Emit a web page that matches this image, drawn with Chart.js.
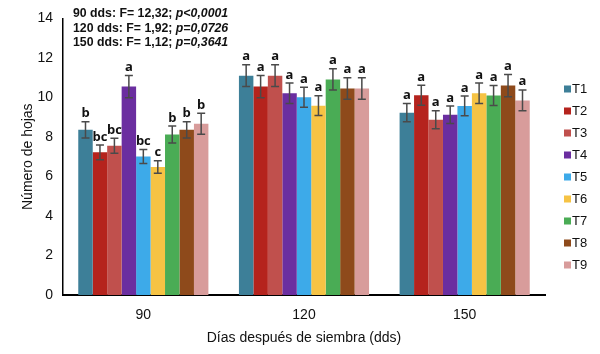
<!DOCTYPE html>
<html>
<head>
<meta charset="utf-8">
<script src="https://cdn.jsdelivr.net/npm/chart.js@4.4.1/dist/chart.umd.min.js"></script>
<style>
html,body{margin:0;padding:0;background:#fff;}
#wrap{width:600px;height:354px;position:relative;}
</style>
</head>
<body>
<div id="wrap"><canvas id="c" width="600" height="354"></canvas></div>
<script>
const days = ['90', '120', '150'];
const treatments = ['T1', 'T2', 'T3', 'T4', 'T5', 'T6', 'T7', 'T8', 'T9'];
const colors = ['#3d7f98', '#b5231d', '#c0504d', '#6b2ea0', '#3daae9', '#f6c344', '#4aac55', '#8e4a1b', '#d89c9b'];

const mean90  = [8.36, 7.22, 7.56, 10.55, 7.01, 6.48, 8.12, 8.36, 8.67];
const err90   = [0.41, 0.37, 0.38, 0.56, 0.36, 0.32, 0.43, 0.41, 0.53];
const mean120 = [11.10, 10.55, 11.10, 10.21, 10.01, 9.58, 10.91, 10.45, 10.45];
const err120  = [0.55, 0.56, 0.55, 0.52, 0.51, 0.50, 0.54, 0.54, 0.54];
const mean150 = [9.23, 10.11, 8.87, 9.12, 9.57, 10.21, 10.10, 10.60, 9.85];
const err150  = [0.46, 0.51, 0.46, 0.44, 0.50, 0.52, 0.51, 0.56, 0.53];

const letters90  = ['b', 'bc', 'bc', 'a', 'bc', 'c', 'b', 'b', 'b'];
const letters120 = ['a', 'a', 'a', 'a', 'a', 'a', 'a', 'a', 'a'];
const letters150 = ['a', 'a', 'a', 'a', 'a', 'a', 'a', 'a', 'a'];

const statLines = [
  ['90 dds: F= 12,32; ', 'p<0,0001'],
  ['120 dds: F= 1,92; ', 'p=0,0726'],
  ['150 dds: F= 1,12; ', 'p=0,3641']
];

const yTicks = [0, 2, 4, 6, 8, 10, 12, 14];

const means = [mean90, mean120, mean150];
const errs = [err90, err120, err150];
const letters = [letters90, letters120, letters150];

const FAM = '"Liberation Sans", Arial, sans-serif';

const datasets = treatments.map((t, i) => ({
  label: t,
  data: means.map(m => m[i]),
  backgroundColor: colors[i],
  borderWidth: 0,
  barPercentage: 1.0,
  categoryPercentage: 0.81
}));

const errPlugin = {
  id: 'errs',
  afterDatasetsDraw(chart) {
    const ctx = chart.ctx;
    const ys = chart.scales.y;
    ctx.save();
    chart.data.datasets.forEach((ds, i) => {
      const meta = chart.getDatasetMeta(i);
      meta.data.forEach((el, j) => {
        const m = means[j][i], e = errs[j][i];
        const x = el.x;
        const yt = ys.getPixelForValue(m + e);
        const yb = ys.getPixelForValue(m - e);
        ctx.strokeStyle = '#4a4a4a';
        ctx.lineWidth = 1.5;
        ctx.beginPath();
        ctx.moveTo(x, yt); ctx.lineTo(x, yb);
        ctx.moveTo(x - 4, yt); ctx.lineTo(x + 4, yt);
        ctx.moveTo(x - 4, yb); ctx.lineTo(x + 4, yb);
        ctx.stroke();
        ctx.fillStyle = '#111';
        ctx.font = 'bold 13px "Open Sans", ' + FAM;
        ctx.textAlign = 'center';
        ctx.textBaseline = 'alphabetic';
        ctx.fillText(letters[j][i], x, yt - 4.5);
      });
    });
    ctx.restore();
  },
  afterDraw(chart) {
    const ctx = chart.ctx;
    ctx.save();
    ctx.fillStyle = '#111';
    ctx.textBaseline = 'middle';
    ctx.textAlign = 'left';
    statLines.forEach((ln, k) => {
      const y = 14 + k * 14.5;
      ctx.font = 'bold 12.3px ' + FAM;
      ctx.fillText(ln[0], 73, y);
      const w = ctx.measureText(ln[0]).width;
      ctx.font = 'italic bold 12.3px ' + FAM;
      ctx.fillText(ln[1], 73 + w, y);
    });
    ctx.font = '13px ' + FAM;
    treatments.forEach((t, i) => {
      const y = 89 + i * 22;
      ctx.fillStyle = colors[i];
      ctx.fillRect(564, y - 3.5, 7, 7);
      ctx.fillStyle = '#111';
      ctx.fillText(t, 572, y + 0.5);
    });
    ctx.restore();
  }
};

new Chart(document.getElementById('c'), {
  type: 'bar',
  data: { labels: days, datasets },
  options: {
    responsive: false,
    animation: false,
    devicePixelRatio: 1,
    layout: { padding: { top: 15, right: 55, left: 0, bottom: 0 } },
    plugins: { legend: { display: false }, tooltip: { enabled: false } },
    scales: {
      x: {
        grid: { display: false, drawTicks: false, tickLength: 0 },
        border: { display: true, color: '#000', width: 2 },
        ticks: { font: { size: 14, family: FAM }, color: '#111', padding: 12 },
        title: { display: true, text: 'Días después de siembra (dds)', color: '#111',
                 font: { size: 14, family: FAM }, padding: { top: 0, bottom: 7 } },
        afterFit: s => { s.height = 59; }
      },
      y: {
        min: 0, max: 14,
        afterBuildTicks: s => { s.ticks = yTicks.map(v => ({ value: v })); },
        grid: { display: false, drawTicks: false, tickLength: 0 },
        border: { display: true, color: '#000', width: 1.5 },
        ticks: { font: { size: 14, family: FAM }, color: '#111', padding: 10 },
        title: { display: true, text: 'Número de hojas', color: '#111',
                 font: { size: 14, family: FAM }, padding: { top: 20, bottom: 0 } },
        afterFit: s => { s.width = 63; }
      }
    }
  },
  plugins: [errPlugin]
});
</script>
</body>
</html>
